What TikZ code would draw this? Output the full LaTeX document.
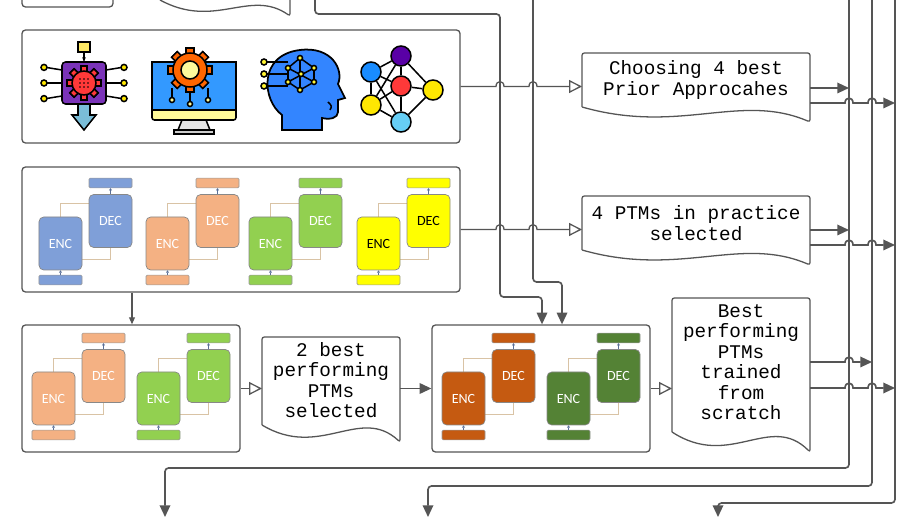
\documentclass[tikz,border=0pt]{standalone}
\usepackage{fontspec}
\usetikzlibrary{arrows.meta,calc}
\newfontfamily\docfont{Liberation Mono}
\newfontfamily\encfont{Carlito}
\definecolor{linegray}{HTML}{555555}
\definecolor{tblue}{HTML}{7F9FD8}
\definecolor{torange}{HTML}{F4B183}
\definecolor{tgreen}{HTML}{92D050}
\definecolor{tyellow}{HTML}{FFFF00}
\definecolor{dorange}{HTML}{C55A11}
\definecolor{dgreen}{HTML}{548235}
\definecolor{linktan}{HTML}{D9C3A5}
% one encoder-decoder sketch: x, y (top left of ENC), fill, text, name
\newcommand\encdec[5]{%
    \draw[link] (#1+21.5,#2) |- (#1+55,#2-14);
    \draw[link] (#1+43,#2+42) -| (#1+71.5,#2+30);
    \node[enc, fill=#3, text=#4] (#5enc) at (#1+21.5,#2+26.5) {ENC};
    \node[enc, fill=#3, text=#4] (#5dec) at (#1+71.5,#2+4) {DEC};
    \node[bar, fill=#3] (#5top) at (#1+71.5,#2-34) {};
    \node[bar, fill=#3] (#5bot) at (#1+21.5,#2+63) {};
    \draw[tiny] (#5bot) -- (#5enc);
    \draw[tiny] (#5dec) -- (#5top);
}
\begin{document}
\begin{tikzpicture}[
    x=0.03cm, y=-0.03cm,
    % Styles
    panel/.style={% For the picture boxes
        rectangle,
        rounded corners=3pt,
        draw=linegray,
        line width=1.1pt,
        },
    doc/.style={% For the document shapes
        draw=linegray,
        line width=1.1pt,
        rounded corners=2pt,
        fill=white,
        },
    doctext/.style={%
        font=\docfont\fontsize{16.5}{17.5}\selectfont,
        align=center,
        inner sep=0pt,
        },
    enc/.style={% ENC and DEC blocks
        rectangle,
        rounded corners=4pt,
        draw=linegray!70,
        line width=0.6pt,
        minimum width=1.29cm,
        minimum height=1.59cm,
        font=\encfont\fontsize{12}{13}\selectfont,
        },
    bar/.style={% Input and output bars
        rectangle,
        rounded corners=1pt,
        draw=linegray!60,
        line width=0.5pt,
        minimum width=1.29cm,
        minimum height=0.29cm,
        inner sep=0pt,
        },
    link/.style={linktan, line width=0.6pt},
    tiny/.style={-{Triangle[length=2pt,width=2.5pt]}, tblue!70!black, line width=0.4pt, shorten <=0pt},
    flow/.style={% Gray connectors
        linegray,
        line width=1.4pt,
        rounded corners=3pt,
        -{Triangle[length=10pt,width=9pt]},
        },
    open/.style={% Open triangle arrows
        linegray,
        line width=1.1pt,
        -{Triangle[open,length=11pt,width=11pt,fill=white]},
        },
    icon/.style={draw=black, line width=1.3pt},
    ]

\clip (0,0) rectangle (918,517);
\fill[white] (0,0) rectangle (918,517);

    % Partial shapes at the top
    \node[panel, minimum width=2.73cm, minimum height=1.2cm] (topbox) at (67.5,-13) {};
    \draw[doc] (160,0) -- (160,-30) -- (290,-30) -- (290,16)
        .. controls (250,-12) and (215,30) .. (160,0);

    % Picture boxes
    \node[panel, minimum width=13.14cm, minimum height=3.39cm] (p1) at (241,86.5) {};
    \node[panel, minimum width=13.14cm, minimum height=3.75cm] (p2) at (241,229.5) {};
    \node[panel, minimum width=6.54cm, minimum height=3.81cm] (p3) at (131,388.5) {};
    \node[panel, minimum width=6.54cm, minimum height=3.81cm] (p4) at (541,388.5) {};

    % Icons: chip
    \draw[icon, fill=yellow!80!orange!60] (78,42) rectangle (90,52);
    \draw[icon, -{Stealth[length=4pt]}] (84,52) -- (84,62);
    \foreach \dy in {-13,0,13}{
        \draw[icon] (62,83+\dy) -- (46,83+1.2*\dy);
        \draw[icon] (106,83+\dy) -- (122,83+1.2*\dy);
        \draw[icon, fill=yellow!90!orange] (44,83+1.2*\dy) circle (3);
        \draw[icon, fill=yellow!90!orange] (124,83+1.2*\dy) circle (3);
    }
    \draw[icon, fill=cyan!50!teal!60] (78,104) -- (90,104) -- (90,115) -- (96,115) -- (84,130) -- (72,115) -- (78,115) -- cycle;
    \draw[icon, fill=violet!70!blue!80, rounded corners=3pt] (62,62) rectangle (106,104);
    \foreach \a in {0,45,...,315}
        \draw[icon, fill=red!70!pink, rotate around={\a:(84,83)}] (81,66) rectangle (87,100);
    \draw[icon, fill=red!70!pink] (84,83) circle (12);
    \foreach \i in {-4,0,4} \foreach \j in {-4,0,4} \fill (84+\i,83+\j) circle (0.8);

    % Icons: monitor
    \draw[icon, fill=yellow!40, rounded corners=2pt] (152,62) rectangle (236,120);
    \draw[icon, fill=blue!50!cyan!80] (152,62) rectangle (236,110);
    \draw[icon, fill=gray!20] (182,120) -- (206,120) -- (210,130) -- (178,130) -- cycle;
    \draw[icon, fill=gray!40] (174,130) rectangle (214,134);
    \foreach \a in {0,45,...,315}
        \draw[icon, fill=orange!80!red, rotate around={\a:(190,70)}] (186,48) rectangle (194,92);
    \draw[icon, fill=orange!80!red] (190,70) circle (17);
    \draw[icon, fill=yellow!40] (190,70) circle (9);
    \foreach \x/\y in {172/100, 190/104, 208/100} {
        \draw[icon] (\x,\y-12) -- (\x,\y);
        \draw[icon, fill=yellow!40] (\x,\y) circle (2.5);
    }

    % Icons: head
    \draw[icon, fill=blue!60!cyan!80, line width=1.5pt] (282,130) -- (282,115)
        .. controls (262,100) and (258,55) .. (300,50)
        .. controls (332,46) and (344,70) .. (338,84) -- (345,98) -- (338,100) -- (338,112)
        .. controls (338,118) and (330,120) .. (322,118) -- (322,130) -- cycle;
    \draw[icon] (300,58) -- (314,68) -- (314,82) -- (300,90) -- (288,82) -- (288,68) -- cycle;
    \draw[icon] (300,58) -- (300,90) (288,68) -- (314,82) (288,82) -- (314,68);
    \foreach \x/\y in {300/58, 314/68, 314/82, 300/90, 288/68, 288/82, 301/74}
        \draw[icon, fill=yellow!80] (\x,\y) circle (2.5);
    \foreach \y in {62,74,86}{
        \draw[icon] (266,\y) -- (288,\y);
        \draw[icon, fill=yellow!80] (264,\y) circle (3);
    }
    \draw[icon] (328,102) .. controls (332,106) .. (330,110);

    % Icons: network
    \foreach \n/\x/\y/\c in {np/401/56/violet!70!blue, nb/371/72/blue!50!cyan!90, nr/401/86/red!70!pink,
                            ny1/433/90/yellow!90!orange, ny2/371/105/yellow!90!orange, nc/401/122/cyan!60}
        \node[icon, circle, fill=\c, minimum size=0.6cm, inner sep=0pt] (\n) at (\x,\y) {};
    \foreach \a/\b in {nb/np, nb/nr, nb/ny2, np/nr, np/ny1, nr/ny1, nr/nc, ny2/nr, ny2/nc, ny1/nc, nb/nc, ny2/np}
        \draw[icon] (\a) -- (\b);

    % Encoder-decoder sketches
    \encdec{39}{217}{tblue}{white}{a}
    \encdec{146}{217}{torange}{white}{b}
    \encdec{249}{217}{tgreen}{white}{c}
    \encdec{357}{217}{tyellow}{black}{d}
    \encdec{32}{372}{torange}{white}{e}
    \encdec{137}{372}{tgreen}{white}{f}
    \encdec{442}{372}{dorange}{white}{g}
    \encdec{547}{372}{dgreen}{white}{h}

    % Documents
    \draw[doc] (582,107) -- (582,53) -- (810,53) -- (810,122)
        .. controls (740,92) and (680,135) .. (582,107);
    \node[doctext] (d1) at (696,80) {Choosing 4 best\\Prior Approcahes};
    \draw[doc] (582,250) -- (582,196) -- (810,196) -- (810,265)
        .. controls (740,235) and (680,278) .. (582,250);
    \node[doctext] (d2) at (696,223) {4 PTMs in practice\\selected};
    \draw[doc] (672,432) -- (672,298) -- (810,298) -- (810,452)
        .. controls (770,412) and (730,470) .. (672,432);
    \node[doctext] (d3) at (741,362) {Best\\performing\\PTMs\\trained\\from\\scratch};
    \draw[doc] (262,425) -- (262,337) -- (400,337) -- (400,442)
        .. controls (360,405) and (320,460) .. (262,425);
    \node[doctext] (d4) at (331,380) {2 best\\performing\\PTMs\\selected};

    % Lines from the top
    \draw[flow] (315,-5) |- (500,14) |- (542,297) -- (p4.north -| 542,0);
    \draw[flow] (533,-5) |- (562,282) -- (p4.north -| 562,0);
    \draw[flow] (849,-5) |- (165,468) -- (165,517);
    \draw[flow] (872,-5) |- (428,486) -- (428,517);
    \draw[flow] (895,-5) |- (718,503) -- (718,517);

    % Boxes into documents
    \draw[open] (p1.east) -- (496,86.5) .. controls (496,80) and (504,80) .. (504,86.5)
        -- (529,86.5) .. controls (529,80) and (537,80) .. (537,86.5) -- (582,86.5);
    \draw[open] (p2.east) -- (496,229.5) .. controls (496,223) and (504,223) .. (504,229.5)
        -- (529,229.5) .. controls (529,223) and (537,223) .. (537,229.5) -- (582,229.5);
    \draw[open] (p3.east) -- (262,388.5);
    \draw[open] (p4.east) -- (672,388.5);
    \draw[flow] (400,388.5) -- (p4.west);
    \draw[flow, -{Triangle[length=6pt,width=5pt]}, line width=1pt] (p2.south -| 132,0) -- (p3.north -| 132,0);

    % Documents into the right lines
    \draw[flow] (810,88) -- (849,88);
    \draw[flow, rounded corners=0pt] (810,103) -- (845,103) .. controls (845,96.5) and (853,96.5) .. (853,103)
        -- (868,103) .. controls (868,96.5) and (876,96.5) .. (876,103) -- (895,103);
    \draw[flow] (810,230) -- (849,230);
    \draw[flow, rounded corners=0pt] (810,245) -- (845,245) .. controls (845,238.5) and (853,238.5) .. (853,245)
        -- (868,245) .. controls (868,238.5) and (876,238.5) .. (876,245) -- (895,245);
    \draw[flow, rounded corners=0pt] (810,362) -- (845,362) .. controls (845,355.5) and (853,355.5) .. (853,362) -- (872,362);
    \draw[flow, rounded corners=0pt] (810,388) -- (845,388) .. controls (845,381.5) and (853,381.5) .. (853,388)
        -- (868,388) .. controls (868,381.5) and (876,381.5) .. (876,388) -- (895,388);
\end{tikzpicture}
\end{document}
